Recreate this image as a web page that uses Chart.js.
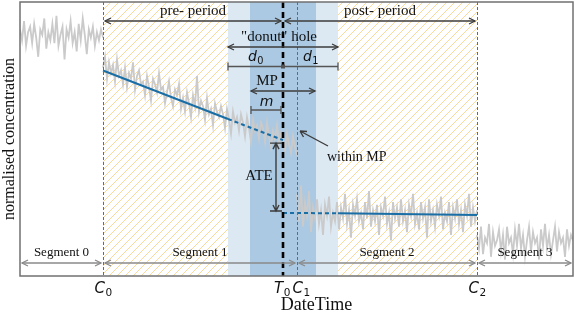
<!DOCTYPE html>
<html>
<head>
<meta charset="utf-8">
<script src="https://cdn.jsdelivr.net/npm/chart.js@4"></script>
<style>
  body { margin: 0; background: #fff; }
  canvas { display: block; }
</style>
</head>
<body>
<canvas id="chartDonut" width="575" height="313"></canvas>
<script>
const chartDonut = document.getElementById("chartDonut");

// Breakpoints (time units)
const C0 = 83, T0 = 263, C1 = 277, C2 = 457, tEnd = 553;
const d0 = 55, d1 = 55, m = 33;

// Segment start/end times
const segStart = [0, C0, C1, C2];
const segEnd = [C0, C1, C2, tEnd];

// normalised concentration
const noise0 = [0.90,0.86,0.93,0.84,0.89,0.91,0.85,0.92,0.87,0.80,0.90,0.88,0.94,0.83,0.89,0.86,0.92,0.85,0.95,0.84,0.88,0.91,0.79,0.90,0.87,0.93,0.85,0.89,0.82,0.92,0.86,0.94,0.88,0.81,0.90,0.87,0.91,0.84,0.89,0.86,0.90,0.87];
const noise1 = [0.76,0.80,0.72,0.78,0.74,0.77,0.71,0.79,0.73,0.75,
	0.70,0.76,0.69,0.74,0.72,0.78,0.68,0.73,0.75,0.70,
	0.71,0.66,0.73,0.69,0.64,0.72,0.70,0.67,0.74,0.68,
	0.69,0.63,0.67,0.71,0.65,0.62,0.68,0.66,0.70,0.61,
	0.65,0.60,0.67,0.63,0.58,0.66,0.62,0.73,0.60,0.64,
	0.62,0.57,0.65,0.59,0.61,0.55,0.63,0.60,0.58,0.62,
	0.59,0.54,0.61,0.57,0.52,0.60,0.56,0.58,0.53,0.59,
	0.56,0.51,0.58,0.54,0.49,0.57,0.53,0.55,0.50,0.56,
	0.54,0.49,0.56,0.51,0.47,0.53,0.50,0.55,0.48,0.52,
	0.50,0.46,0.52,0.48,0.45,0.51,0.47,0.44];
const noise2 = [0.30,0.20,0.33,0.18,0.27,0.22,0.31,0.16,0.25,0.21,
	0.28,0.19,0.24,0.15,0.26,0.22,0.29,0.18,0.23,0.20,
	0.27,0.17,0.25,0.21,0.30,0.19,0.24,0.14,0.26,0.22,
	0.28,0.20,0.23,0.17,0.27,0.21,0.31,0.18,0.24,0.20,
	0.26,0.15,0.25,0.22,0.29,0.19,0.23,0.13,0.27,0.21,
	0.25,0.18,0.28,0.20,0.24,0.16,0.26,0.22,0.30,0.19,
	0.23,0.17,0.27,0.21,0.25,0.14,0.28,0.20,0.24,0.18,
	0.26,0.22,0.29,0.17,0.23,0.20,0.27,0.15,0.25,0.21,
	0.28,0.19,0.24,0.16,0.26,0.22,0.30,0.18,0.25,0.20,
	0.24];
const noise3 = [0.15,0.10,0.18,0.08,0.14,0.12,0.19,0.07,0.16,0.11,
	0.13,0.17,0.09,0.15,0.06,0.18,0.12,0.14,0.08,0.17,
	0.11,0.19,0.10,0.15,0.07,0.13,0.18,0.09,0.16,0.12,
	0.14,0.06,0.17,0.11,0.19,0.10,0.15,0.08,0.13,0.18,
	0.09,0.16,0.12,0.14,0.07,0.17,0.11,0.15,0.13];

// fitted trends
const preTrendX = [C0, T0 - d0, T0];
const preTrendY = [0.750, 0.573, 0.496];
const postTrendX = [T0, T0 + d1, C2];
const postTrendY = [0.230, 0.229, 0.223];

const gray = '#cacaca';
const blue = '#1a6ea6';

function toPoints(vals, a, b) {
	let step = (b - a) / (vals.length - 1);
	return vals.map(function(v, i) { return { x: a + i * step, y: v }; });
}
function zip(xs, ys) {
	return xs.map(function(x, i) { return { x: x, y: ys[i] }; });
}

let noiseSets = [noise0, noise1, noise2, noise3].map(function(vals, i) {
	return {
		data: toPoints(vals, segStart[i], segEnd[i]),
		borderColor: gray,
		borderWidth: 1.8,
		pointRadius: 0,
		order: 2
	};
});

// ---- drawing helpers
function arrowHead(ctx, x, y, dir) {
	// dir: 1 = pointing right, -1 = left
	ctx.beginPath();
	ctx.moveTo(x - dir * 6, y - 3);
	ctx.lineTo(x, y);
	ctx.lineTo(x - dir * 6, y + 3);
	ctx.stroke();
}
function dblArrow(ctx, x1, x2, y, color) {
	ctx.save();
	ctx.strokeStyle = color;
	ctx.lineWidth = 1.3;
	ctx.beginPath();
	ctx.moveTo(x1, y);
	ctx.lineTo(x2, y);
	ctx.stroke();
	arrowHead(ctx, x2, y, 1);
	arrowHead(ctx, x1, y, -1);
	ctx.restore();
}
function capBar(ctx, x1, x2, y, color) {
	ctx.save();
	ctx.strokeStyle = color;
	ctx.lineWidth = 1.3;
	ctx.beginPath();
	ctx.moveTo(x1, y); ctx.lineTo(x2, y);
	ctx.moveTo(x1, y - 4); ctx.lineTo(x1, y + 4);
	ctx.moveTo(x2, y - 4); ctx.lineTo(x2, y + 4);
	ctx.stroke();
	ctx.restore();
}
function subText(ctx, main, sub, x, y, size) {
	// italic letter with subscript, centred on x
	ctx.save();
	ctx.fillStyle = '#111';
	ctx.textBaseline = 'middle';
	ctx.textAlign = 'left';
	ctx.font = 'italic ' + size + 'px "DejaVu Sans"';
	let w1 = ctx.measureText(main).width;
	ctx.font = (size * 0.7) + 'px "DejaVu Sans"';
	let w2 = ctx.measureText(sub).width;
	let x0 = x - (w1 + w2) / 2;
	ctx.font = 'italic ' + size + 'px "DejaVu Sans"';
	ctx.fillText(main, x0, y);
	ctx.font = (size * 0.7) + 'px "DejaVu Sans"';
	ctx.fillText(sub, x0 + w1 + 0.5, y + size * 0.3);
	ctx.restore();
}
function serif(ctx, txt, x, y, size, align) {
	ctx.save();
	ctx.fillStyle = '#111';
	ctx.font = size + 'px "Liberation Serif"';
	ctx.textAlign = align || 'center';
	ctx.textBaseline = 'middle';
	ctx.fillText(txt, x, y);
	ctx.restore();
}

const backdrop = {
	id: 'backdrop',
	beforeDatasetsDraw(chart) {
		const ctx = chart.ctx, a = chart.chartArea, xs = chart.scales.x;
		const px = function(v) { return xs.getPixelForValue(v); };
		ctx.save();
		// hatch
		let hx0 = px(C0), hx1 = px(C2);
		ctx.beginPath();
		ctx.rect(hx0, a.top, hx1 - hx0, a.bottom - a.top);
		ctx.clip();
		ctx.strokeStyle = 'rgba(249,204,120,0.75)';
		ctx.lineWidth = 1;
		let h = a.bottom - a.top;
		for (let k = hx0 - h; k < hx1; k += 8) {
			ctx.beginPath();
			ctx.moveTo(k, a.bottom);
			ctx.lineTo(k + h, a.top);
			ctx.stroke();
		}
		ctx.restore();
		// donut hole + MP bands
		ctx.fillStyle = '#dce8f2';
		ctx.fillRect(px(T0 - d0), a.top, px(T0 + d1) - px(T0 - d0), a.bottom - a.top);
		ctx.fillStyle = '#abc9e2';
		ctx.fillRect(px(T0 - m), a.top, px(T0 + m) - px(T0 - m), a.bottom - a.top);
	},
	afterDatasetsDraw(chart) {
		const ctx = chart.ctx, a = chart.chartArea, xs = chart.scales.x, ys = chart.scales.y;
		const px = function(v) { return xs.getPixelForValue(v); };
		ctx.save();
		// change points
		ctx.strokeStyle = '#6a6a6a';
		ctx.lineWidth = 1;
		ctx.setLineDash([3, 2]);
		[C0, C1, C2].forEach(function(c) {
			ctx.beginPath();
			ctx.moveTo(Math.round(px(c)) + 0.5, a.top);
			ctx.lineTo(Math.round(px(c)) + 0.5, a.bottom);
			ctx.stroke();
		});
		// intervention
		ctx.strokeStyle = '#000';
		ctx.lineWidth = 2.6;
		ctx.setLineDash([6, 4]);
		ctx.beginPath();
		ctx.moveTo(px(T0), a.top);
		ctx.lineTo(px(T0), a.bottom);
		ctx.stroke();
		ctx.setLineDash([]);
		// frame
		ctx.strokeStyle = '#707070';
		ctx.lineWidth = 1.5;
		ctx.strokeRect(a.left, a.top, a.right - a.left, a.bottom - a.top);
		ctx.restore();

		// top annotations
		const dark = '#3c3c3c';
		serif(ctx, 'pre- period', (px(C0) + px(T0)) / 2, 11, 15);
		serif(ctx, 'post- period', (px(T0) + px(C2)) / 2, 11, 15);
		dblArrow(ctx, px(C0) + 2, px(T0) - 2, 21, dark);
		dblArrow(ctx, px(T0) + 2, px(C2) - 2, 21, dark);
		serif(ctx, '"donut" hole', px(T0) - 4, 37, 15);
		dblArrow(ctx, px(T0 - d0), px(T0 + d1), 47, dark);
		subText(ctx, 'd', '0', (px(T0 - d0) + px(T0)) / 2, 57, 14);
		subText(ctx, 'd', '1', (px(T0) + px(T0 + d1)) / 2, 57, 14);
		capBar(ctx, px(T0 - d0), px(T0 + d1), 66.5, '#555');
		ctx.save();
		ctx.fillStyle = '#555';
		ctx.fillRect(px(T0) - 2, 64.5, 4, 4);
		ctx.restore();
		serif(ctx, 'MP', px(T0) - 16, 81, 15);
		dblArrow(ctx, px(T0 - m) + 1, px(T0 + m) - 1, 91, dark);
		subText(ctx, 'm', '', (px(T0 - m) + px(T0)) / 2, 102, 14);
		capBar(ctx, px(T0 - m) + 1, px(T0) - 2, 110, '#555');

		// ATE
		let yPre = ys.getPixelForValue(preTrendY[2]);
		let yPost = ys.getPixelForValue(postTrendY[0]);
		let ax = px(T0) - 7;
		ctx.save();
		ctx.strokeStyle = dark;
		ctx.lineWidth = 1.4;
		ctx.beginPath();
		ctx.moveTo(ax, yPre + 3); ctx.lineTo(ax, yPost - 3);
		ctx.moveTo(ax - 6, yPre + 3); ctx.lineTo(ax + 6, yPre + 3);
		ctx.moveTo(ax - 6, yPost - 2); ctx.lineTo(ax + 6, yPost - 2);
		ctx.moveTo(ax - 3, yPre + 9); ctx.lineTo(ax, yPre + 3); ctx.lineTo(ax + 3, yPre + 9);
		ctx.moveTo(ax - 3, yPost - 8); ctx.lineTo(ax, yPost - 2); ctx.lineTo(ax + 3, yPost - 8);
		ctx.stroke();
		// within MP pointer
		ctx.beginPath();
		ctx.moveTo(328, 146);
		ctx.lineTo(300, 131);
		ctx.moveTo(300, 131); ctx.lineTo(307, 131.5);
		ctx.moveTo(300, 131); ctx.lineTo(303.5, 137);
		ctx.stroke();
		ctx.restore();
		serif(ctx, 'ATE', ax - 17, (yPre + yPost) / 2, 15);
		serif(ctx, 'within MP', 327, 157, 14, 'left');

		// segments
		const segGray = '#8a8a8a';
		for (let i = 0; i < 4; i++) {
			let x1 = px(segStart[i]), x2 = px(segEnd[i]);
			serif(ctx, 'Segment ' + i, (x1 + x2) / 2, 253, 13);
			dblArrow(ctx, x1 + 2, x2 - 2, 263, segGray);
		}

		// x tick labels and titles
		subText(ctx, 'C', '0', px(C0), 289, 15);
		subText(ctx, 'T', '0', px(T0) - 1, 289, 15);
		subText(ctx, 'C', '1', px(C1) + 4, 289, 15);
		subText(ctx, 'C', '2', px(C2), 289, 15);
		serif(ctx, 'DateTime', (a.left + a.right) / 2 + 20, 305, 18);
		ctx.save();
		ctx.translate(10, (a.top + a.bottom) / 2);
		ctx.rotate(-Math.PI / 2);
		serif(ctx, 'normalised concentration', 0, 0, 16);
		ctx.restore();
	}
};

const donutChart = new Chart(chartDonut, {
	type: 'line',
	data: {
		datasets: noiseSets.concat([
			{
				data: zip(preTrendX, preTrendY),
				borderColor: blue,
				borderWidth: 2,
				pointRadius: 0,
				order: 1,
				segment: { borderDash: function(c) { return c.p0DataIndex === 1 ? [4, 3] : undefined; } }
			},
			{
				data: zip(postTrendX, postTrendY),
				borderColor: blue,
				borderWidth: 2,
				pointRadius: 0,
				order: 1,
				segment: { borderDash: function(c) { return c.p0DataIndex === 0 ? [4, 3] : undefined; } }
			}
		])
	},
	options: {
		responsive: false,
		animation: false,
		layout: { padding: { left: 20, right: 2, top: 2, bottom: 37 } },
		plugins: { legend: { display: false }, tooltip: { enabled: false } },
		scales: {
			x: { type: 'linear', min: 0, max: tEnd, display: false },
			y: { min: 0, max: 1, display: false }
		}
	},
	plugins: [backdrop]
});
</script>
</body>
</html>
